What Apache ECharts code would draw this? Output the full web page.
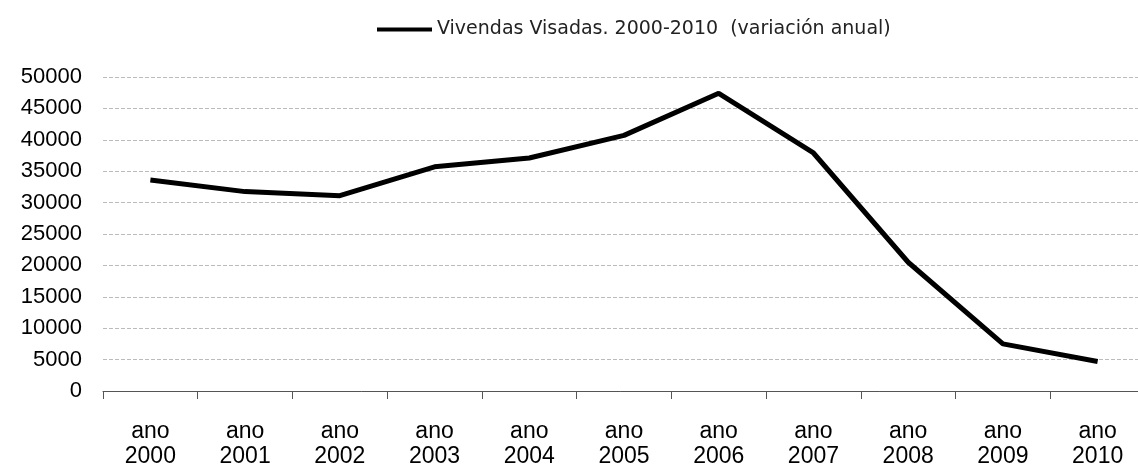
<!DOCTYPE html>
<html lang="es">
<head>
    <meta charset="UTF-8">
    <title>Vivendas Visadas 2000-2010</title>
    <script src="https://cdn.jsdelivr.net/npm/echarts@6/dist/echarts.min.js"></script>
    <style>
        * { margin: 0; padding: 0; }
        body { background: #fff; }
        #chart { width: 1138px; height: 466px; }
    </style>
</head>
<body>
    <div id="chart"></div>
    <script>
        // datos
        const years = ['2000', '2001', '2002', '2003', '2004', '2005', '2006', '2007', '2008', '2009', '2010'];
        const categories = years.map(y => 'ano\n' + y);
        const vivendas = [33600, 31750, 31100, 35700, 37100, 40700, 47400, 37900, 20500, 7500, 4700];
        const seriesName = 'Vivendas Visadas. 2000-2010  (variación anual)';

        const chart = echarts.init(document.getElementById('chart'));
        chart.setOption({
            animation: false,
            legend: {
                left: 372,
                top: 15,
                icon: 'rect',
                itemWidth: 55,
                itemHeight: 4,
                textStyle: { fontFamily: 'DejaVu Sans', fontSize: 19, color: '#222' },
                data: [seriesName]
            },
            // el eje se sale un poco por la derecha, como en el original
            grid: { left: 103, top: 77, width: 1042, height: 314, outerBoundsMode: 'none', containLabel: false },
            xAxis: {
                type: 'category',
                data: categories,
                boundaryGap: true,
                axisLine: { lineStyle: { color: '#555', width: 1 } },
                axisTick: { show: true, length: 8, lineStyle: { color: '#555' } },
                axisLabel: {
                    margin: 28,
                    fontFamily: 'Liberation Sans',
                    fontSize: 23,
                    lineHeight: 25,
                    color: '#000'
                }
            },
            yAxis: {
                type: 'value',
                min: 0,
                max: 50000,
                interval: 5000,
                axisLine: { show: false },
                axisTick: { show: false },
                axisLabel: {
                    margin: 21,
                    fontFamily: 'Liberation Sans',
                    fontSize: 22,
                    color: '#000',
                    formatter: v => String(v)
                },
                splitLine: { lineStyle: { color: '#bbb', type: [4, 2], width: 1 } }
            },
            series: [{
                name: seriesName,
                type: 'line',
                data: vivendas,
                showSymbol: false,
                color: '#000',
                lineStyle: { width: 5, color: '#000' }
            }]
        });
    </script>
</body>
</html>
